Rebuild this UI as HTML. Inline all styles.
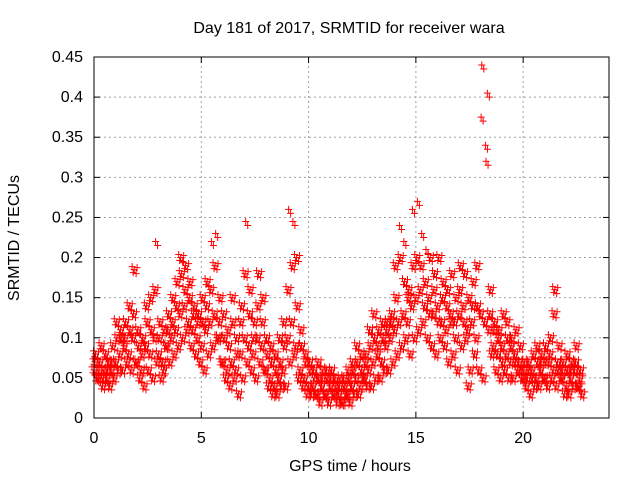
<!DOCTYPE html>
<html><head><meta charset="utf-8"><style>
body{margin:0;background:#fff;}
svg{display:block;font-family:"Liberation Sans",sans-serif;}
</style></head><body>
<svg id="chart" width="640" height="480">
<text x="349" y="33" font-size="16" text-anchor="middle">Day 181 of 2017, SRMTID for receiver wara</text>
<text x="350" y="471" font-size="16" text-anchor="middle">GPS time / hours</text>
<text transform="translate(19,238) rotate(-90)" font-size="16" text-anchor="middle">SRMTID / TECUs</text>
<g id="grid"></g><g id="ticks"></g><g id="marks"></g>
<rect x="94" y="57" width="515" height="361" fill="none" stroke="#000" stroke-width="1"/>
</svg>
<script>
const xTicks=[0,5,10,15,20];
const yTicks=[0,0.05,0.1,0.15,0.2,0.25,0.3,0.35,0.4,0.45];
const yTickLabels=["0","0.05","0.1","0.15","0.2","0.25","0.3","0.35","0.4","0.45"];
const times=[0,0.2,0.4,0.6,0.8,1,1.2,1.4,1.6,1.8,2,2.2,2.4,2.6,2.8,3,3.2,3.4,3.6,3.8,4,4.2,4.4,4.6,4.8,5,5.2,5.4,5.6,5.8,6,6.2,6.4,6.6,6.8,7,7.2,7.4,7.6,7.8,8,8.2,8.4,8.6,8.8,9,9.2,9.4,9.6,9.8,10,10.2,10.4,10.6,10.8,11,11.2,11.4,11.6,11.8,12,12.2,12.4,12.6,12.8,13,13.2,13.4,13.6,13.8,14,14.2,14.4,14.6,14.8,15,15.2,15.4,15.6,15.8,16,16.2,16.4,16.6,16.8,17,17.2,17.4,17.6,17.8,18,18.2,18.4,18.6,18.8,19,19.2,19.4,19.6,19.8,20,20.2,20.4,20.6,20.8,21,21.2,21.4,21.6,21.8,22,22.2,22.4,22.6,22.8];
const vals=[
[0.06,0.08,0.05,0.07],[0.05,0.07,0.09,0.06],[0.04,0.06,0.08,0.05],[0.05,0.07,0.04,0.06],[0.06,0.09,0.05,0.07],
[0.07,0.1,0.06,0.12],[0.08,0.1,0.06,0.11],[0.09,0.12,0.07,0.1],[0.08,0.11,0.06,0.14],[0.1,0.185,0.07,0.13],
[0.07,0.09,0.05,0.11],[0.06,0.1,0.04,0.08],[0.09,0.12,0.06,0.14],[0.08,0.11,0.05,0.15],[0.1,0.22,0.07,0.16],
[0.08,0.12,0.05,0.1],[0.07,0.11,0.09,0.06],[0.09,0.13,0.07,0.11],[0.1,0.15,0.08,0.12],[0.11,0.17,0.09,0.14],
[0.13,0.18,0.1,0.2],[0.14,0.19,0.11,0.16],[0.12,0.17,0.09,0.15],[0.11,0.14,0.08,0.13],[0.1,0.13,0.07,0.12],
[0.09,0.12,0.06,0.15],[0.11,0.17,0.08,0.14],[0.12,0.22,0.09,0.16],[0.13,0.23,0.1,0.19],[0.1,0.15,0.07,0.12],
[0.07,0.1,0.05,0.13],[0.06,0.09,0.04,0.11],[0.07,0.12,0.05,0.15],[0.06,0.08,0.03,0.1],[0.08,0.14,0.05,0.12],
[0.1,0.245,0.07,0.18],[0.09,0.16,0.06,0.13],[0.08,0.12,0.05,0.1],[0.1,0.18,0.07,0.14],[0.09,0.15,0.06,0.12],
[0.06,0.08,0.04,0.1],[0.05,0.07,0.03,0.09],[0.04,0.06,0.03,0.08],[0.05,0.07,0.04,0.1],[0.06,0.09,0.04,0.12],
[0.1,0.26,0.07,0.16],[0.12,0.245,0.08,0.19],[0.09,0.14,0.05,0.2],[0.06,0.09,0.04,0.11],[0.05,0.07,0.03,0.08],
[0.04,0.06,0.03,0.07],[0.04,0.05,0.03,0.06],[0.03,0.05,0.02,0.07],[0.04,0.06,0.03,0.05],[0.03,0.05,0.02,0.06],
[0.04,0.06,0.03,0.05],[0.03,0.04,0.02,0.05],[0.03,0.05,0.02,0.04],[0.02,0.04,0.03,0.05],[0.03,0.05,0.02,0.06],
[0.04,0.06,0.03,0.07],[0.05,0.07,0.03,0.09],[0.04,0.06,0.05,0.08],[0.05,0.08,0.04,0.07],[0.06,0.09,0.04,0.11],
[0.07,0.1,0.05,0.13],[0.08,0.11,0.05,0.09],[0.07,0.1,0.06,0.12],[0.09,0.12,0.06,0.11],[0.1,0.13,0.07,0.12],
[0.11,0.15,0.08,0.19],[0.12,0.2,0.09,0.24],[0.13,0.17,0.1,0.22],[0.12,0.16,0.08,0.15],[0.14,0.19,0.1,0.26],
[0.15,0.27,0.11,0.2],[0.16,0.23,0.12,0.19],[0.14,0.21,0.1,0.17],[0.15,0.2,0.09,0.13],[0.13,0.18,0.08,0.16],
[0.14,0.2,0.1,0.12],[0.12,0.17,0.09,0.15],[0.11,0.16,0.07,0.14],[0.13,0.18,0.08,0.12],[0.12,0.15,0.06,0.1],
[0.13,0.19,0.09,0.16],[0.14,0.18,0.1,0.12],[0.11,0.15,0.06,0.04],[0.12,0.17,0.08,0.14],[0.1,0.14,0.06,0.19],
[0.13,0.44,0.05,0.375],[0.12,0.32,0.405,0.34],[0.11,0.16,0.08,0.13],[0.09,0.12,0.06,0.11],[0.08,0.11,0.05,0.1],
[0.09,0.13,0.06,0.07],[0.08,0.1,0.05,0.12],[0.07,0.1,0.05,0.09],[0.08,0.11,0.06,0.07],[0.07,0.09,0.05,0.06],
[0.05,0.07,0.04,0.06],[0.05,0.06,0.03,0.07],[0.06,0.08,0.04,0.05],[0.05,0.07,0.04,0.09],[0.06,0.08,0.05,0.07],
[0.05,0.07,0.04,0.09],[0.07,0.1,0.05,0.08],[0.06,0.16,0.04,0.13],[0.07,0.09,0.05,0.06],[0.05,0.07,0.03,0.06],
[0.04,0.06,0.03,0.08],[0.05,0.07,0.04,0.06],[0.06,0.09,0.04,0.07],[0.04,0.06,0.03,0.05]];
const X0=94,X1=609,Y0=418,Y1=57,XMAX=24,YMAX=0.45;
function sx(v){return X0+v*(X1-X0)/XMAX;}
function sy(v){return Y0-v*(Y0-Y1)/YMAX;}
const NS="http://www.w3.org/2000/svg";
function mk(t,a,p){const e=document.createElementNS(NS,t);for(const k in a)e.setAttribute(k,a[k]);p.appendChild(e);return e;}
const marks=document.getElementById('marks');
let d='';
const offs=[0,0.07,0.13,0.04];
const cluster=[[0,0],[2,4],[-2,-3],[3,-2],[-1,3]];
const n=Math.min(times.length,vals.length);
for(let i=0;i<n;i++){
  const row=vals[i]||[];
  for(let j=0;j<row.length;j++){
    const x0=sx(times[i]+offs[j%4]),y0=sy(row[j]);
    const cl=row[j]>0.2?cluster.slice(0,2):cluster;
    for(const c of cl){
      const x=x0+c[0],y=y0+c[1];
      d+='M'+(x-3.5)+','+y+'h7M'+x+','+(y-3.5)+'v7';
    }
  }
}
const p=mk('path',{d:d,stroke:'#ff0000','stroke-width':1,fill:'none'},marks);


</script>
<script>
(function(){
const grid=document.getElementById('grid'),ticks=document.getElementById('ticks');
for(let i=0;i<yTicks.length;i++){const v=yTicks[i];const y=sy(v);
 if(i>0&&i<yTicks.length-1){const g=mk('line',{x1:X0,x2:X1,y1:y,y2:y,stroke:'#a0a0a0','stroke-dasharray':'2,3'},grid);
 
 }
 const t=mk('text',{x:X0-11,y:y+5,'font-size':16,'text-anchor':'end'},ticks);t.textContent=yTickLabels[i];
 
 
 mk('line',{x1:X0,x2:X0+6,y1:y,y2:y,stroke:'#000'},ticks);mk('line',{x1:X1,x2:X1-6,y1:y,y2:y,stroke:'#000'},ticks);
}
for(let i=0;i<xTicks.length;i++){const v=xTicks[i];const x=sx(v);
 if(v>0){const g=mk('line',{x1:x,x2:x,y1:Y0,y2:Y1,stroke:'#a0a0a0','stroke-dasharray':'2,3'},grid);
 
 }
 const t=mk('text',{x:x,y:Y0+25,'font-size':16,'text-anchor':'middle'},ticks);t.textContent=String(v);
 
 
 mk('line',{x1:x,x2:x,y1:Y0,y2:Y0-6,stroke:'#000'},ticks);mk('line',{x1:x,x2:x,y1:Y1,y2:Y1+6,stroke:'#000'},ticks);
}
})();
</script>
</body></html>
